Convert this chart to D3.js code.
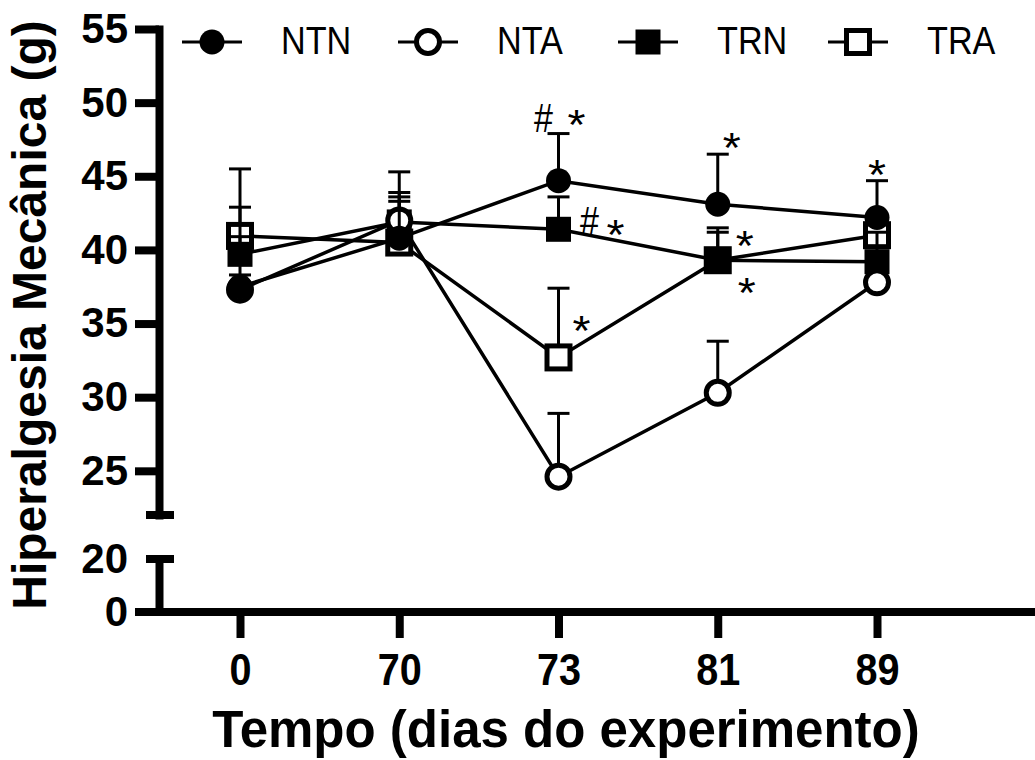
<!DOCTYPE html>
<html>
<head>
<meta charset="utf-8">
<script src="https://cdn.jsdelivr.net/npm/d3@7"></script>
<style>
  body { margin: 0; background: #fff; }
  text { font-family: Arial, "Liberation Sans", sans-serif; fill: #000; }
</style>
</head>
<body>
<div class="svg-container"></div>
<script>
var days = ["0", "70", "73", "81", "89"];
var seriesNames = ["NTN", "NTA", "TRN", "TRA"];

var ntnMean = [37.5, 40.8, 44.7, 43.1, 42.2];
var ntnErr  = [8.0, 4.5, 3.2, 3.4, 2.5];
var ntaMean = [37.3, 42.0, 24.6, 30.3, 37.8];
var ntaErr  = [1.0, 1.9, 4.3, 3.5, 1.0];
var trnMean = [39.7, 41.9, 41.4, 39.3, 39.2];
var trnErr  = [1.2, 1.7, 2.2, 1.9, 2.0];
var traMean = [40.95, 40.5, 32.7, 39.3, 41.0];
var traErr  = [1.95, 2.8, 4.7, 2.2, 1.0];

var upperTicks = [25, 30, 35, 40, 45, 50, 55];
var lowerTicks = [0, 20];

// significance marks: day, value on y axis, symbol
var markDays   = ["73", "73", "73", "73", "73", "81", "81", "81", "89"];
var markValues = [49.0, 49.2, 41.96, 41.7, 35.2, 47.6, 40.95, 37.75, 45.8];
var markTexts  = ["#", "*", "#", "*", "*", "*", "*", "*", "*"];
var markShift  = [-15, 18, 31, 57, 23, 14, 27, 29, 0];

var width = 1035, height = 760;
var axisX = 159;
var narrow = 0.9;
var starSize = 42;

var svg = d3.select(".svg-container").append("svg")
  .attr("width", width)
  .attr("height", height);

var x = d3.scalePoint().domain(days).range([240, 877]);
var yUpper = d3.scaleLinear().domain([22, 55]).range([515, 29]);
var yLower = d3.scaleLinear().domain([0, 20]).range([612, 559]);

function yPos(v) {
  return v >= 22 ? yUpper(v) : yLower(v);
}

// ---- axes ----
var gUp = svg.append("g").attr("transform", "translate(" + axisX + ",0)")
  .call(d3.axisLeft(yUpper).tickValues(upperTicks).tickSize(24).tickSizeOuter(0).tickPadding(7));
gUp.select(".domain").attr("stroke-width", 8).attr("stroke-linecap", "square").attr("fill", "none");
gUp.selectAll(".tick line").attr("stroke-width", 8);
gUp.selectAll(".tick text").attr("font-size", 42).attr("font-weight", "bold")
  .attr("font-family", "Arial, 'Liberation Sans', sans-serif");
gUp.append("line").attr("x1", -13).attr("x2", 15).attr("y1", yUpper(22)).attr("y2", yUpper(22))
  .attr("stroke", "#000").attr("stroke-width", 8);

var gLow = svg.append("g").attr("transform", "translate(" + axisX + ",0)")
  .call(d3.axisLeft(yLower).tickValues(lowerTicks).tickSize(0).tickSizeOuter(0).tickPadding(31));
gLow.select(".domain").attr("stroke-width", 8).attr("fill", "none");
gLow.selectAll(".tick text").attr("font-size", 42).attr("font-weight", "bold")
  .attr("font-family", "Arial, 'Liberation Sans', sans-serif");
gLow.append("line").attr("x1", -13).attr("x2", 15).attr("y1", yLower(20)).attr("y2", yLower(20))
  .attr("stroke", "#000").attr("stroke-width", 8);

var gX = svg.append("g").attr("transform", "translate(0," + yLower(0) + ")")
  .call(d3.axisBottom(x).tickSize(26).tickPadding(16));
gX.select(".domain").remove();
gX.selectAll(".tick line").attr("stroke-width", 8);
gX.selectAll(".tick text").attr("font-size", 44).attr("font-weight", "bold")
  .attr("font-family", "Arial, 'Liberation Sans', sans-serif")
  .attr("transform", "scale(" + narrow + ",1)");
gX.append("line").attr("x1", axisX - 24).attr("x2", width).attr("y1", 0).attr("y2", 0)
  .attr("stroke", "#000").attr("stroke-width", 8);

svg.append("text")
  .attr("transform", "translate(46,315) rotate(-90)")
  .attr("text-anchor", "middle")
  .attr("font-size", 48).attr("font-weight", "bold")
  .text("Hiperalgesia Mecânica (g)");

svg.append("text")
  .attr("transform", "translate(566,747)")
  .attr("text-anchor", "middle")
  .attr("font-size", 51).attr("font-weight", "bold")
  .text("Tempo (dias do experimento)");

// ---- series ----
var series = [
  {name: "NTN", mean: ntnMean, err: ntnErr, shape: "circle", filled: true},
  {name: "NTA", mean: ntaMean, err: ntaErr, shape: "circle", filled: false},
  {name: "TRN", mean: trnMean, err: trnErr, shape: "square", filled: true},
  {name: "TRA", mean: traMean, err: traErr, shape: "square", filled: false}
];

function drawMarker(g, s, cx, cy) {
  if (s.shape === "circle") {
    g.append("circle")
      .attr("cx", cx).attr("cy", cy)
      .attr("r", s.filled ? 12.5 : 11.5)
      .attr("fill", s.filled ? "#000" : "#fff")
      .attr("stroke", "#000")
      .attr("stroke-width", s.filled ? 0 : 5);
  } else {
    var side = s.filled ? 25 : 23;
    g.append("rect")
      .attr("x", cx - side / 2).attr("y", cy - side / 2)
      .attr("width", side).attr("height", side)
      .attr("fill", s.filled ? "#000" : "#fff")
      .attr("stroke", "#000")
      .attr("stroke-width", s.filled ? 0 : 5);
  }
}

var line = d3.line()
  .x(function(d) { return x(d.day); })
  .y(function(d) { return yPos(d.mean); });

// drawn last-to-first so NTN ends up on top
series.slice().reverse().forEach(function(s) {
  var pts = days.map(function(d, i) { return {day: d, mean: s.mean[i], err: s.err[i]}; });
  var g = svg.append("g").attr("class", "series-" + s.name);

  g.append("path").datum(pts)
    .attr("d", line)
    .attr("fill", "none")
    .attr("stroke", "#000")
    .attr("stroke-width", 3.5);

  var eb = g.append("g").selectAll("g").data(pts).enter().append("g");
  eb.append("line")
    .attr("x1", function(d) { return x(d.day); })
    .attr("x2", function(d) { return x(d.day); })
    .attr("y1", function(d) { return yPos(d.mean); })
    .attr("y2", function(d) { return yPos(d.mean + d.err); })
    .attr("stroke", "#000").attr("stroke-width", 3);
  eb.append("line")
    .attr("x1", function(d) { return x(d.day) - 11; })
    .attr("x2", function(d) { return x(d.day) + 11; })
    .attr("y1", function(d) { return yPos(d.mean + d.err); })
    .attr("y2", function(d) { return yPos(d.mean + d.err); })
    .attr("stroke", "#000").attr("stroke-width", 3);

  pts.forEach(function(d) {
    drawMarker(g, s, x(d.day), yPos(d.mean));
  });
});

// ---- significance marks ----
svg.append("g").selectAll("text").data(markTexts).enter().append("text")
  .attr("transform", function(d, i) {
    var tx = x(markDays[i]) + markShift[i];
    var ty = d === "*" ? yPos(markValues[i]) + 0.58 * starSize : yPos(markValues[i]) + 0.36 * 40;
    var sx = d === "*" ? 1.1 : 0.85;
    return "translate(" + tx + "," + ty + ") scale(" + sx + ",1)";
  })
  .attr("text-anchor", "middle")
  .attr("font-size", function(d) { return d === "*" ? starSize : 40; })
  .text(function(d) { return d; });

// ---- legend ----
var legendCx = [212, 428, 648, 858];
var legendY = 42;
var lg = svg.append("g").attr("class", "legend");
series.forEach(function(s, i) {
  var cx = legendCx[i];
  lg.append("line")
    .attr("x1", cx - 30).attr("x2", cx + 30)
    .attr("y1", legendY).attr("y2", legendY)
    .attr("stroke", "#000").attr("stroke-width", 3);
  drawMarker(lg, s, cx, legendY);
  lg.append("text")
    .attr("transform", "translate(" + (cx + 69) + "," + (legendY + 12) + ") scale(" + narrow + ",1)")
    .attr("font-size", 38)
    .text(s.name);
});
</script>
</body>
</html>
